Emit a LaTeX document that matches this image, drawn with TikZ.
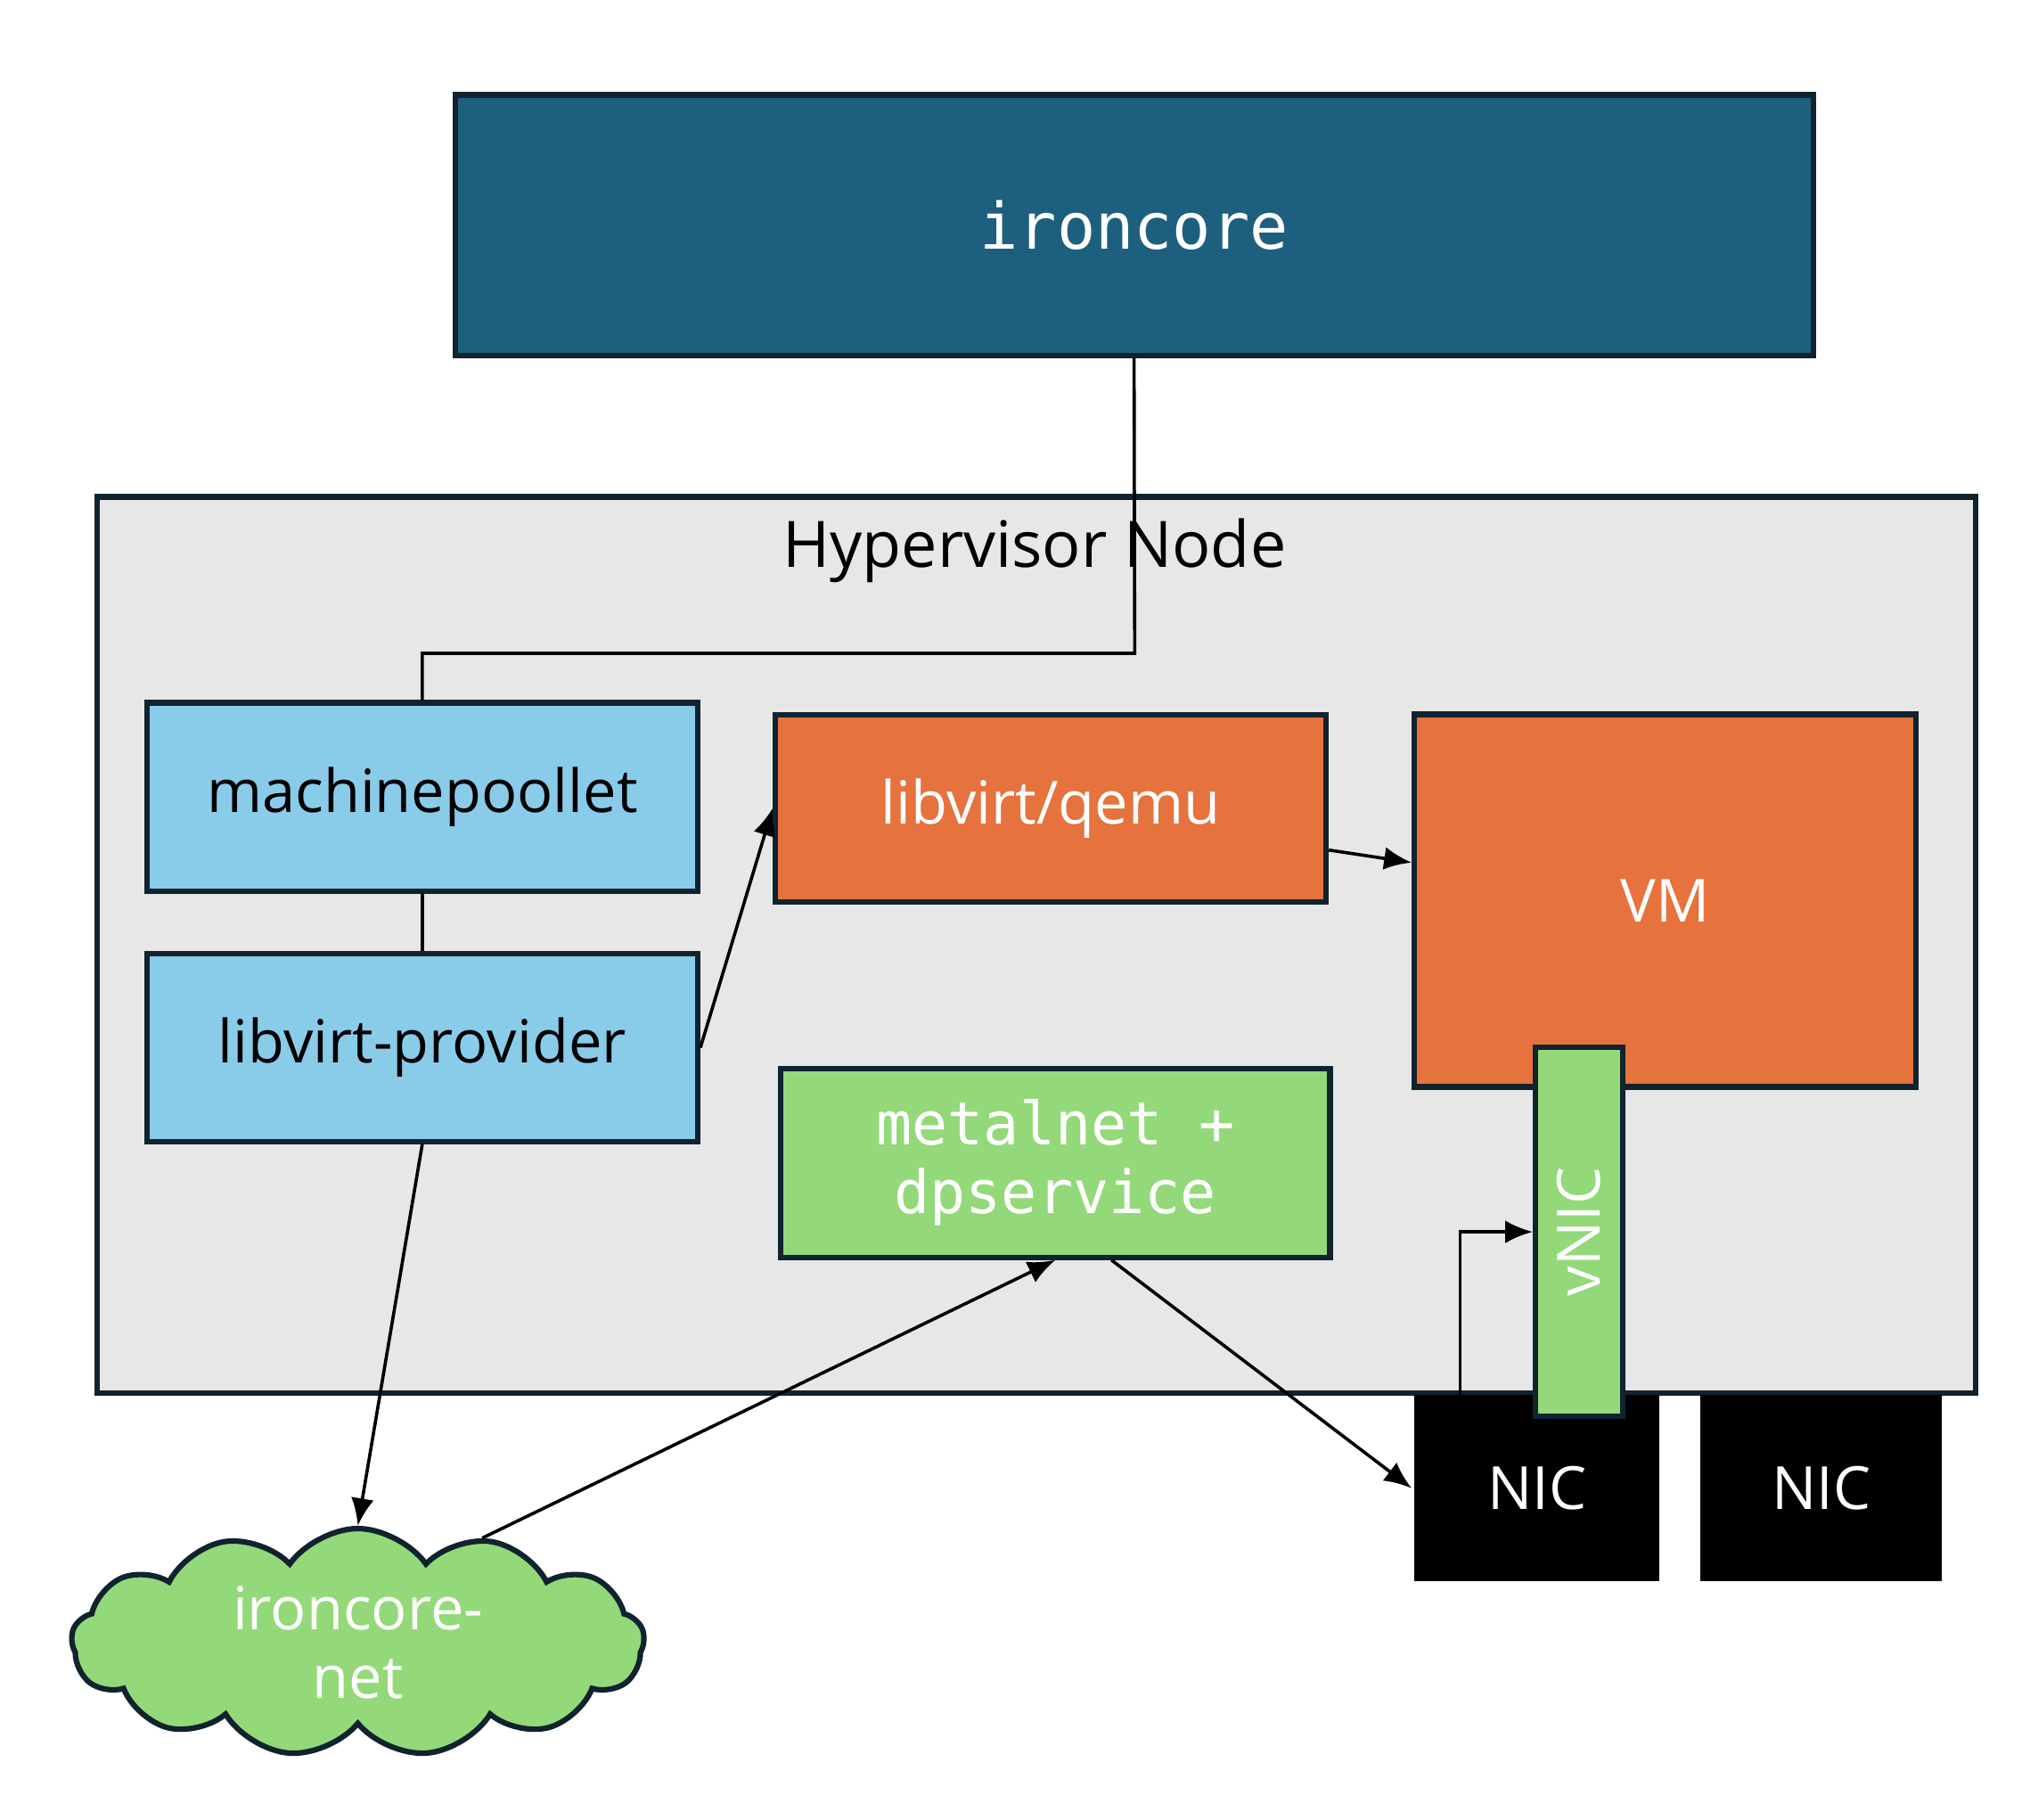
\documentclass[tikz,border=0pt]{standalone}
\usepackage{fontspec}
\setmainfont{Open Sans}
\newfontfamily\monofont{DejaVu Sans Mono}
\usetikzlibrary{positioning, shapes.symbols, arrows.meta}
\definecolor{corecol}{HTML}{1D5F7E}
\definecolor{hvcol}{HTML}{E7E7E7}
\definecolor{bluecol}{HTML}{89CCE9}
\definecolor{orangecol}{HTML}{E6723E}
\definecolor{greencol}{HTML}{93D97A}
\definecolor{edgecol}{HTML}{10232F}
\begin{document}
\begin{tikzpicture}[x=0.01cm, y=-0.01cm,
    box/.style={draw=edgecol, line width=1.2pt, inner sep=0pt, font=\fontsize{13}{15}\selectfont, align=center},
    con/.style={line width=0.7pt},
    arr/.style={con, -{Latex[length=6pt,width=5pt]}}
    ]
\useasboundingbox (0,0) rectangle (1560,1398);
% outer boxes
\node[box, fill=corecol, text=white, minimum width=10.43cm, minimum height=2cm, font=\monofont\fontsize{14}{16}\selectfont] (core) at (871.5,173) {ironcore};
\node[box, fill=hvcol, minimum width=14.43cm, minimum height=6.88cm] (hv) at (796.5,726) {};
\node[font=\fontsize{14}{16}\selectfont] (hvlabel) at (795,423) {Hypervisor Node};
% inner boxes
\node[box, fill=bluecol, minimum width=4.23cm, minimum height=1.45cm] (mpl) at (324.5,612.5) {machinepoollet};
\node[box, fill=bluecol, minimum width=4.23cm, minimum height=1.44cm] (lvp) at (324.5,805) {libvirt-provider};
\node[box, fill=orangecol, text=white, minimum width=4.23cm, minimum height=1.44cm] (qemu) at (807.5,621) {libvirt/qemu};
\node[box, fill=orangecol, text=white, minimum width=3.85cm, minimum height=2.86cm] (vm) at (1279.5,692) {VM};
\node[box, fill=greencol, text=white, minimum width=4.22cm, minimum height=1.45cm, font=\monofont\fontsize{13}{15}\selectfont] (metal) at (811,893.5) {metalnet +\\dpservice};
\node[box, draw=none, fill=black, text=white, minimum width=1.88cm, minimum height=1.43cm] (nic1) at (1181,1143.5) {NIC};
\node[box, draw=none, fill=black, text=white, minimum width=1.85cm, minimum height=1.43cm] (nic2) at (1399.5,1143.5) {NIC};
\node[box, fill=greencol, text=white, minimum width=0.67cm, minimum height=2.83cm] (vnic) at (1213.5,946.5) {};
\node[rotate=90, text=white, font=\fontsize{13}{15}\selectfont] (vniclabel) at (vnic) {vNIC};
\node[box, cloud, cloud puffs=13, cloud puff arc=110, aspect=2.4, fill=greencol, text=white, minimum width=4.4cm, minimum height=1.75cm] (net) at (275,1262) {ironcore-\\net};
% connectors
\coordinate (bend) at (872,502);
\draw[con] (core.south) -- (bend) -| (mpl.north);
\draw[con] (mpl) -- (lvp);
\draw[arr] (lvp.east) -- (qemu.west);
\draw[arr] (qemu) -- (vm);
\draw[arr] (lvp.south) -- (net.north);
\draw[arr] (net.40) -- (metal.south);
\draw[arr] (metal.300) -- (nic1.west);
\coordinate (nicup) at (1122,1072);
\draw[arr] (nicup) |- (vnic.west);
\end{tikzpicture}
\end{document}
